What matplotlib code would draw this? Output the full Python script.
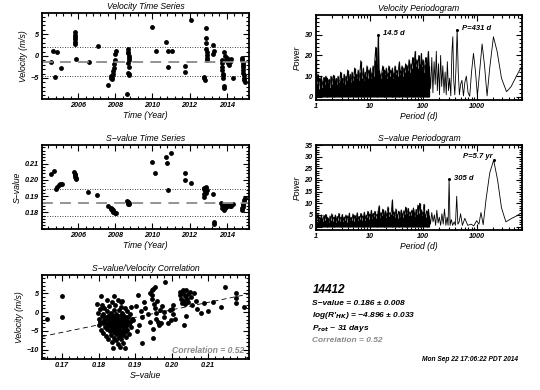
import numpy as np
import matplotlib
matplotlib.use("Agg")
import matplotlib.pyplot as plt
from matplotlib.ticker import MultipleLocator, LogLocator, NullFormatter, FixedLocator

plt.rcParams["font.family"] = ["Liberation Sans Narrow", "Liberation Sans", "DejaVu Sans"]
plt.rcParams["font.style"] = "italic"
plt.rcParams["font.weight"] = "bold"
plt.rcParams["mathtext.fontset"] = "custom"
plt.rcParams["mathtext.rm"] = "Liberation Sans Narrow:italic:bold"
plt.rcParams["mathtext.it"] = "Liberation Sans Narrow:italic:bold"
plt.rcParams["mathtext.bf"] = "Liberation Sans Narrow:italic:bold"
plt.rcParams["axes.unicode_minus"] = True

# ---- velocity time series ----
vel_year = [2004.52, 2004.64, 2004.85, 2004.75, 2005.06,
            2005.82, 2005.82, 2005.83, 2005.83, 2005.84, 2005.84, 2005.86,
            2006.58, 2007.05,
            2007.62, 2007.74, 2007.77, 2007.80, 2007.84, 2007.88, 2007.90, 2007.92, 2007.94, 2007.96, 2007.99, 2008.03,
            2008.65, 2008.69, 2008.70, 2008.70, 2008.71, 2008.71, 2008.72, 2008.70, 2008.68, 2008.72, 2008.76, 2008.73,
            2010.00, 2010.17, 2010.75, 2010.83, 2010.85, 2011.03, 2011.75, 2011.76, 2012.07,
            2012.77, 2012.80, 2012.83, 2012.88, 2012.89, 2012.90, 2012.91, 2012.92, 2012.93, 2012.94, 2012.96,
            2013.27, 2013.29, 2013.27,
            2013.74, 2013.75, 2013.76, 2013.77, 2013.78, 2013.80, 2013.82, 2013.84, 2013.86,
            2013.88, 2013.92, 2013.96, 2014.00, 2014.04, 2014.08, 2014.12, 2014.17, 2014.22, 2014.33,
            2014.83, 2014.84, 2014.86, 2014.87, 2014.88, 2014.89, 2014.90, 2014.92, 2014.93, 2014.95, 2014.97]
vel = [-1.3, 1.1, 1.0, -4.8, -2.7,
       5.4, 4.9, 4.4, 3.8, 3.3, 2.8, -0.7,
       -1.3, 2.2,
       -6.5, -4.6, -5.0, -5.2, -4.8, -4.0, -3.4, -2.8, -1.9, -0.8, 0.4, 1.2,
       -8.6, 1.5, 1.0, 0.6, 0.1, -0.4, -1.0, -1.6, -3.9, -4.3, -4.1, -2.6,
       6.5, 1.1, 3.3, -2.6, 1.1, 1.1, -2.2, -3.7, 8.1,
       -4.8, -5.1, -5.4, 6.4, 4.0, 2.9, 1.6, 0.9, 0.2, -0.4, -0.9,
       2.5, 1.2, 0.4,
       -0.8, -1.6, -2.4, -3.2, -4.0, -4.4, -5.0, -6.8, -7.2,
       1.0, 0.1, -0.8, -1.2, -0.5, -1.6, -2.0, -1.3, -0.6, -4.9,
       -0.4, -1.0, -1.6, -2.1, -2.6, -3.2, -3.8, -4.3, -5.0, -5.5, -5.9]
vel_mean = -1.35
vel_std = 3.3

# ---- S-value time series ----
s_year = [2004.52, 2004.68, 2004.78, 2004.84, 2004.94, 2005.03, 2005.12,
          2005.80, 2005.81, 2005.82, 2005.84, 2005.86, 2005.88,
          2006.55, 2007.03,
          2007.62, 2007.74, 2007.78, 2007.82, 2007.86, 2007.90, 2007.95, 2008.00, 2008.05, 2007.80, 2007.88,
          2008.62, 2008.66, 2008.70, 2008.72, 2008.74, 2008.68,
          2010.00, 2010.14, 2010.72, 2010.81, 2010.85, 2011.00,
          2011.75, 2011.75, 2012.07,
          2012.76, 2012.79, 2012.82, 2012.85, 2012.88, 2012.80, 2012.78, 2012.90, 2012.92,
          2013.27, 2013.30, 2013.33,
          2013.70, 2013.74, 2013.78, 2013.82, 2013.86, 2013.90, 2013.94, 2013.98,
          2014.04, 2014.10, 2014.16, 2014.24, 2013.76, 2013.84, 2013.92, 2014.33,
          2014.82, 2014.84, 2014.86, 2014.88, 2014.90, 2014.92, 2014.95, 2014.97]
s_val = [0.2034, 0.2056, 0.1945, 0.1955, 0.1967, 0.1973, 0.1974,
         0.2046, 0.2038, 0.2028, 0.2018, 0.2012, 0.2008,
         0.1924, 0.1908,
         0.1838, 0.1826, 0.1818, 0.1812, 0.1808, 0.1804, 0.1800, 0.1798, 0.1797, 0.1822, 0.1815,
         0.1870, 0.1866, 0.1862, 0.1858, 0.1854, 0.1850,
         0.2112, 0.2044, 0.2142, 0.2102, 0.1940, 0.2165,
         0.2042, 0.2000, 0.1978,
         0.1952, 0.1945, 0.1938, 0.1930, 0.1922, 0.1912, 0.1895, 0.1958, 0.1935,
         0.1915, 0.1738, 0.1730,
         0.1855, 0.1848, 0.1842, 0.1838, 0.1846, 0.1840, 0.1836, 0.1844,
         0.1842, 0.1845, 0.1840, 0.1842, 0.1825, 0.1815, 0.1830, 0.1852,
         0.1814, 0.1824, 0.1834, 0.1844, 0.1854, 0.1864, 0.1876, 0.1890]
s_mean = 0.186
s_std = 0.0084

# ---- periodograms: dense part on a log period grid, then sparse part ----
dense_pmin, dense_pmax = 1.0, 130.0
vel_dense_power = [19.5, 6, 11, 4, 9, 7, 10, 5, 8, 9.5,
                   6, 10, 4, 9, 7, 8.5, 5, 10, 6, 9,
                   10.5, 5, 8, 9, 6, 10, 7, 8, 12, 5,
                   9, 7, 11, 6, 10, 8, 13, 6, 9, 11,
                   7, 12, 8, 10, 14, 7, 11, 9, 13, 8,
                   12, 17.5, 9, 11, 14, 8, 12, 10, 15, 9,
                   13, 11, 14, 9, 12, 15, 10, 18, 24, 14,
                   16, 30, 13, 11, 9, 12, 15, 10, 13, 11,
                   14, 9, 12, 15, 10, 13, 11, 14, 9, 12,
                   15, 11, 13, 10, 14, 17, 11, 13, 15, 10,
                   14, 12, 16, 11, 15, 13, 18, 12, 16, 14,
                   19, 13, 17, 22, 15, 18, 14, 20, 16, 13,
                   21, 15, 18, 12, 16, 19, 13, 17, 22, 15]
vel_sparse_period = [138, 145, 152, 160, 168, 176, 184, 193, 202, 212, 222, 233, 245, 257, 270,
                     283, 297, 312, 328, 345, 358, 372, 390, 410, 431, 452, 475, 500, 530,
                     565, 600, 640, 690, 740, 800, 870, 950, 1030, 1130, 1260, 1400, 1560,
                     1750, 2050, 2400, 2900, 3600, 4400, 5500, 7000]
vel_sparse_power = [4, 19, 2, 17, 6, 22, 3, 16, 1, 20, 5, 15, 2, 12, 1,
                    17, 3, 9, 0.5, 22, 29, 8, 1, 14, 32.5, 12, 1, 6, 8,
                    0.5, 7, 10, 2, 0.3, 12, 21, 12, 0.5, 12, 25.5, 15, 0.5,
                    14, 29, 22, 9, 2.5, 5, 10, 15]
vel_peak_period = [14.5, 431]
vel_peak_power = [30.0, 32.5]
vel_peak_label = ["14.5 d", "P=431 d"]

s_dense_power = [4.5, 2, 5.5, 3, 4, 1.5, 5, 3.5, 2.5, 4.8,
                 3, 5.2, 2, 4, 3.5, 1.8, 4.6, 3, 5.5, 2.5,
                 4, 3.2, 5, 2, 4.4, 3, 5.6, 2.2, 4, 3.6,
                 5.2, 2.4, 4.2, 3, 5, 2, 4.6, 3.4, 5.8, 2.6,
                 4, 3, 5.4, 2.2, 4.8, 3.2, 4.2, 6, 2.8, 4.4,
                 3.4, 5.6, 2.6, 4.6, 3.8, 6.2, 3, 5, 4, 6.5,
                 3.2, 5.4, 4.2, 7, 3.6, 5.8, 4.4, 6.6, 3.8, 5.2,
                 4.6, 7.2, 9, 4, 6, 5, 7.5, 3.6, 5.4, 6.8,
                 4.2, 6.2, 8.5, 4.6, 6, 5.2, 7, 11.5, 5, 6.4,
                 4, 7.6, 5.4, 3.8, 6.6, 5, 4.4, 7.2, 5.6, 4.2,
                 6.8, 5.2, 8.4, 4.6, 6, 7.8, 5, 6.4, 4.8, 7,
                 5.6, 8, 6.2, 4.4, 7.4, 5.4, 9.2, 6, 10, 5.2,
                 7.2, 4.8, 6.6, 9.6, 5.4, 4.2, 6.8, 5, 7.4, 4.6]
s_sparse_period = [137, 145, 153, 162, 171, 180, 190, 200, 212, 224, 237, 250, 265, 280, 292,
                   305, 318, 335, 355, 380, 400, 423, 445, 470, 500, 540, 600, 680, 780,
                   880, 1000, 1100, 1200, 1320, 1500, 1750, 2070, 2450, 2900, 3500, 4500, 5500, 7000]
s_sparse_power = [1, 6, 2, 5, 0.5, 7, 1.5, 4, 0.5, 5.5, 1, 7.5, 0.5, 4, 0.5,
                  20.3, 0.5, 3, 0.5, 2, 0.5, 13, 1, 2, 5.5, 0.5, 3.5, 0.5, 1,
                  0.3, 2.5, 1, 6, 0.8, 12, 23, 28.5, 20, 8, 2, 3.5, 4.5, 6]
s_peak_period = [305, 2082]
s_peak_power = [20.3, 28.5]
s_peak_label = ["305 d", "P=5.7 yr"]

# ---- S-value / velocity correlation ----
corr_s = [0.1798, 0.1800, 0.1801, 0.1803, 0.1805, 0.1806, 0.1808, 0.1809, 0.1811, 0.1812,
          0.1813, 0.1815, 0.1816, 0.1817, 0.1819, 0.1820, 0.1821, 0.1822, 0.1824, 0.1825,
          0.1826, 0.1827, 0.1828, 0.1829, 0.1830, 0.1831, 0.1832, 0.1833, 0.1834, 0.1835,
          0.1836, 0.1837, 0.1837, 0.1838, 0.1839, 0.1840, 0.1840, 0.1841, 0.1842, 0.1842,
          0.1843, 0.1844, 0.1844, 0.1845, 0.1846, 0.1846, 0.1847, 0.1848, 0.1848, 0.1849,
          0.1850, 0.1850, 0.1851, 0.1852, 0.1852, 0.1853, 0.1853, 0.1854, 0.1855, 0.1855,
          0.1856, 0.1857, 0.1857, 0.1858, 0.1858, 0.1859, 0.1860, 0.1860, 0.1861, 0.1862,
          0.1862, 0.1863, 0.1864, 0.1864, 0.1865, 0.1866, 0.1866, 0.1867, 0.1868, 0.1868,
          0.1869, 0.1870, 0.1871, 0.1871, 0.1872, 0.1873, 0.1874, 0.1875, 0.1876, 0.1877,
          0.1878, 0.1879, 0.1880, 0.1882, 0.1883, 0.1885, 0.1886, 0.1888, 0.1889, 0.1891,
          0.1795, 0.1806, 0.1823, 0.1841, 0.1862, 0.1660, 0.1700, 0.1700,
          0.1895, 0.1902, 0.1905, 0.1909, 0.1912, 0.1915, 0.1918, 0.1920, 0.1925, 0.1928,
          0.1935, 0.1940, 0.1942, 0.1945, 0.1946, 0.1947, 0.1948, 0.1950, 0.1950, 0.1952,
          0.1955, 0.1955, 0.1957, 0.1958, 0.1960, 0.1962, 0.1965, 0.1968, 0.1972, 0.1975,
          0.1978, 0.1980, 0.1983, 0.1990, 0.1995, 0.1998, 0.2000, 0.2003, 0.2005, 0.2008,
          0.2022, 0.2024, 0.2026, 0.2028, 0.2030, 0.2032, 0.2034, 0.2036, 0.2038, 0.2040,
          0.2042, 0.2044, 0.2046, 0.2035, 0.2050, 0.2053, 0.2056, 0.2060, 0.2066, 0.2040,
          0.2070, 0.2080, 0.2090, 0.2100, 0.2114, 0.2136, 0.2145, 0.2177, 0.2177, 0.2177, 0.2198]
corr_v = [-0.2, -1.8, -3.4, 0.9, -2.6, -4.7, -1.1, 2.0, -3.0, -5.6,
          -0.4, -2.1, 1.2, -3.9, -6.3, -1.4, -2.9, 0.3, -4.4, -7.1,
          -1.9, -3.3, 1.6, -0.7, -5.1, -2.5, -3.8, -6.0, -0.1, -1.6,
          -4.6, 2.6, -2.8, -8.0, -3.5, -1.0, -9.5, -5.4, 0.7, -2.2,
          -6.8, -3.9, -1.4, -4.8, 1.9, -2.9, -7.5, -0.4, -3.6, -5.9,
          -1.8, -2.5, -4.2, 3.3, -8.6, -0.9, -3.1, -5.1, -1.5, -6.5,
          -2.7, 0.5, -4.5, -9.4, -3.4, -1.1, -5.7, -2.0, 1.4, -7.2,
          -3.8, -0.3, -4.9, -2.4, 2.9, -6.1, -1.6, -3.2, -8.1, -0.8,
          -4.1, -2.2, 1.0, -5.3, -3.0, -9.6, -1.3, -6.6, -3.7, 0.2,
          -2.4, -4.8, -1.2, -3.1, -5.8, -0.5, -2.5, -4.0, 1.3, -1.8,
          2.2, 4.3, 3.3, 4.2, 2.8, -1.7, 4.3, -1.3,
          -2.0, 1.6, -5.1, 4.6, -3.4, 0.4, -8.2, -1.2, 2.8, 1.2,
          -0.5, -2.7, 5.2, 5.8, 4.5, 3.6, 6.2, -6.9, -4.5, 2.2,
          6.8, 1.0, -0.1, -1.8, 3.0, -2.5, -3.4, 0.5, -2.9, 1.6,
          0.0, -1.3, 8.1, -3.0, 0.6, -2.1, 0.9, -0.6, 2.0, -1.8,
          5.5, 4.5, 3.6, 2.4, 6.0, 5.0, 3.0, 4.2, 2.2, 5.8,
          3.4, 4.8, 2.6, -3.4, 5.3, 4.0, 2.0, 5.0, 3.0, -1.0,
          0.9, -0.3, 2.4, 0.4, 2.6, 1.3, 6.8, 5.2, 3.7, 2.4, 1.3]
fit_slope = 200.0
fit_intercept = -39.4
corr_coef = 0.52

star_name = "14412"
date_str = "Mon Sep 22 17:06:22 PDT 2014"

GRAY = "#8a8a8a"
FS_TICK = 5.2
FS_LAB = 6.2
MS = 3.5


def style(ax):
    for sp in ax.spines.values():
        sp.set_linewidth(1.3)
    ax.tick_params(which="both", direction="in", top=True, right=True,
                   labelsize=FS_TICK, width=0.8, pad=2.5)
    ax.tick_params(which="major", length=4)
    ax.tick_params(which="minor", length=2)


fig = plt.figure(figsize=(5.4, 3.9), dpi=100)

def px_axes(l, t, r, b):
    return fig.add_axes([l / 540, 1 - b / 390, (r - l) / 540, (b - t) / 390])


# velocity time series
ax = px_axes(42, 13, 249, 99)
ax.plot(vel_year, vel, "o", color="black", ms=MS, mew=0)
ax.axhline(vel_mean, color=GRAY, lw=1.3, ls=(0, (6, 4)))
ax.axhline(vel_mean + vel_std, color="black", lw=0.6, ls=(0, (1, 2)))
ax.axhline(vel_mean - vel_std, color="black", lw=0.6, ls=(0, (1, 2)))
ax.set_xlim(2004.05, 2015.2)
ax.set_ylim(-9.8, 9.8)
ax.xaxis.set_major_locator(FixedLocator([2006, 2008, 2010, 2012, 2014]))
ax.xaxis.set_minor_locator(MultipleLocator(0.4))
ax.yaxis.set_major_locator(MultipleLocator(5))
ax.yaxis.set_minor_locator(MultipleLocator(1))
ax.set_title("Velocity Time Series", fontsize=FS_LAB, pad=3)
ax.set_xlabel("Time (Year)", fontsize=FS_LAB, labelpad=1)
ax.set_ylabel("Velocity (m/s)", fontsize=FS_LAB, labelpad=2)
style(ax)

# S-value time series
ax = px_axes(42, 145, 249, 229)
ax.plot(s_year, s_val, "o", color="black", ms=MS, mew=0)
ax.axhline(s_mean, color=GRAY, lw=1.3, ls=(0, (6, 4)))
ax.axhline(s_mean + s_std, color="black", lw=0.6, ls=(0, (1, 2)))
ax.axhline(s_mean - s_std, color="black", lw=0.6, ls=(0, (1, 2)))
ax.set_xlim(2004.05, 2015.2)
ax.set_ylim(0.1698, 0.2214)
ax.xaxis.set_major_locator(FixedLocator([2006, 2008, 2010, 2012, 2014]))
ax.xaxis.set_minor_locator(MultipleLocator(0.4))
ax.yaxis.set_major_locator(FixedLocator([0.18, 0.19, 0.20, 0.21]))
ax.yaxis.set_minor_locator(MultipleLocator(0.002))
ax.yaxis.set_major_formatter(plt.FuncFormatter(lambda v, p: f"{v:.2f}"))
ax.set_title("S\u2212value Time Series", fontsize=FS_LAB, pad=3)
ax.set_xlabel("Time (Year)", fontsize=FS_LAB, labelpad=1)
ax.set_ylabel("S\u2212value", fontsize=FS_LAB, labelpad=2)
style(ax)


def periodogram(ax, dense_power, sp_period, sp_power, pk_period, pk_power, pk_label, label_side):
    dense_period = np.geomspace(dense_pmin, dense_pmax, len(dense_power))
    ax.vlines(dense_period, 0, dense_power, color="black", lw=0.9)
    per = np.concatenate([dense_period, sp_period])
    pw = np.concatenate([dense_power, sp_power])
    ax.plot(per, pw, color="black", lw=0.6)
    ax.plot(pk_period, pk_power, "o", color="black", ms=2.2, mew=0)
    for p, w, lab, side in zip(pk_period, pk_power, pk_label, label_side):
        if side == "right":
            ax.text(p * 1.25, w + 0.5, lab, fontsize=FS_TICK + 0.3, ha="left", va="center")
        else:
            ax.text(p * 0.97, w + 1.5, lab, fontsize=FS_TICK + 0.3, ha="right", va="center")
    ax.set_xscale("log")
    ax.set_xlim(1, 7000)
    ax.xaxis.set_major_locator(FixedLocator([1, 10, 100, 1000]))
    ax.xaxis.set_major_formatter(plt.FuncFormatter(lambda v, p: f"{v:.0f}"))
    ax.xaxis.set_minor_locator(LogLocator(base=10, subs=np.arange(2, 10)))
    ax.xaxis.set_minor_formatter(NullFormatter())
    ax.set_xlabel("Period (d)", fontsize=FS_LAB, labelpad=1)
    ax.set_ylabel("Power", fontsize=FS_LAB, labelpad=2)


# velocity periodogram
ax = px_axes(316, 15, 522, 100)
periodogram(ax, vel_dense_power, vel_sparse_period, vel_sparse_power,
            vel_peak_period, vel_peak_power, vel_peak_label, ["right", "right"])
ax.set_ylim(-1.5, 39.5)
ax.yaxis.set_major_locator(MultipleLocator(10))
ax.yaxis.set_minor_locator(MultipleLocator(2))
ax.set_title("Velocity Periodogram", fontsize=FS_LAB, pad=3)
style(ax)

# S-value periodogram
ax = px_axes(316, 145, 522, 230)
periodogram(ax, s_dense_power, s_sparse_period, s_sparse_power,
            s_peak_period, s_peak_power, s_peak_label, ["right", "left"])
ax.set_ylim(-1.5, 35)
ax.yaxis.set_major_locator(MultipleLocator(5))
ax.yaxis.set_minor_locator(MultipleLocator(1))
ax.set_title("S\u2212value Periodogram", fontsize=FS_LAB, pad=3)
style(ax)

# correlation
ax = px_axes(42, 275, 249, 359)
ax.plot(corr_s, corr_v, "o", color="black", ms=MS, mew=0)
xlim = (0.1645, 0.2212)
xs = np.array(xlim)
ax.plot(xs, fit_intercept + fit_slope * xs, color="black", lw=0.6, ls=(0, (6, 4)))
ax.set_xlim(*xlim)
ax.set_ylim(-12.5, 9.9)
ax.xaxis.set_major_locator(FixedLocator([0.17, 0.18, 0.19, 0.20, 0.21]))
ax.xaxis.set_major_formatter(plt.FuncFormatter(lambda v, p: f"{v:.2f}"))
ax.xaxis.set_minor_locator(MultipleLocator(0.002))
ax.yaxis.set_major_locator(MultipleLocator(5))
ax.yaxis.set_minor_locator(MultipleLocator(1))
ax.text(0.975, 0.1, f"Correlation = {corr_coef:.2f}", transform=ax.transAxes,
        ha="right", va="center", fontsize=FS_LAB, color=GRAY)
ax.set_title("S\u2212value/Velocity Correlation", fontsize=FS_LAB, pad=3)
ax.set_xlabel("S\u2212value", fontsize=FS_LAB, labelpad=1)
ax.set_ylabel("Velocity (m/s)", fontsize=FS_LAB, labelpad=2)
style(ax)

# info text
tx = 312.5 / 540
fig.text(tx, 1 - 293 / 390, star_name, fontsize=8.5, va="baseline")
fig.text(tx, 1 - 305 / 390, f"S\u2212value = {s_mean:.3f} \u00b1 0.008", fontsize=6, va="baseline")
fig.text(tx, 1 - 317 / 390, "log(R'$_{HK}$) = \u22124.896 \u00b1 0.033", fontsize=6, va="baseline")
fig.text(tx, 1 - 330 / 390, "P$_{rot}$ ~ 31 days", fontsize=6, va="baseline")
fig.text(tx, 1 - 342 / 390, f"Correlation = {corr_coef:.2f}", fontsize=6, va="baseline", color=GRAY)
fig.text(518 / 540, 1 - 361 / 390, date_str, fontsize=4.8, va="baseline", ha="right")

fig.savefig("out.png", dpi=100)
